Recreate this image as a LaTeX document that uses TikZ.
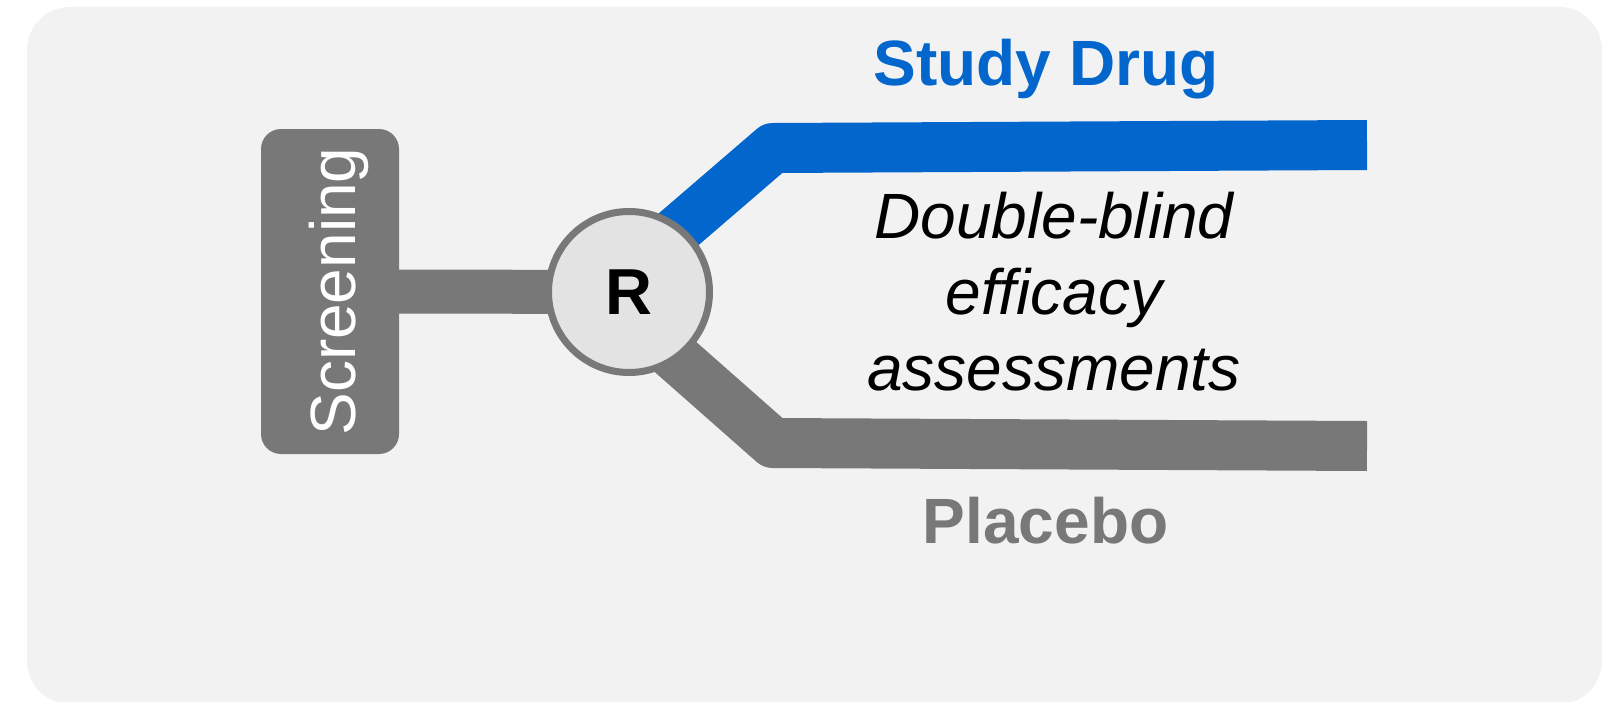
\documentclass[tikz,border=0pt]{standalone}
\usepackage{fontspec}
\setmainfont{Liberation Sans}
\usetikzlibrary{calc}
\definecolor{bgc}{HTML}{F2F2F2}
\definecolor{grayc}{HTML}{787878}
\definecolor{bluec}{HTML}{0366CC}
\definecolor{circfill}{HTML}{E3E3E3}
\pgfdeclarelayer{back}
\pgfdeclarelayer{mid}
\pgfsetlayers{back,mid,main}
\begin{document}
\begin{tikzpicture}[x=1pt,y=-1pt,
  arm/.style={line width=50pt, line join=round, line cap=butt},
  scrbox/.style={rectangle, fill=grayc, rounded corners=20pt, minimum width=138pt, minimum height=325pt, inner sep=0pt, outer sep=0pt},
  scrtext/.style={rotate=90, anchor=base, text=white, inner sep=0pt, font=\fontsize{64}{64}\selectfont},
  rnode/.style={circle, draw=grayc, line width=7pt, fill=circfill, minimum size=161pt, inner sep=0pt, font=\fontsize{65}{65}\selectfont\bfseries},
  armlabel/.style={anchor=base, inner sep=0pt, font=\fontsize{64}{64}\selectfont\bfseries},
  midtext/.style={align=center, inner sep=0pt, font=\fontsize{64}{76}\selectfont\itshape}]
\useasboundingbox (0,0) rectangle (1608,701);
\begin{pgfonlayer}{back}
\fill[bgc, rounded corners=43pt] (27,7) rectangle (1602,704);
\end{pgfonlayer}
\node[scrbox] (scr) at (330,291.5) {};
\node[scrtext] (scrtxt) at (355,291.5) {Screening};
\node[rnode] (R) at (629,292) {R};
\coordinate (b0) at ($(R.center)+(0,-20)$);
\coordinate (b1) at (773,148);
\coordinate (b2) at (1367,145);
\coordinate (g0) at ($(R.center)+(0,24)$);
\coordinate (g1) at (773,443);
\coordinate (g2) at (1367,446);
\begin{pgfonlayer}{mid}
\draw[grayc, line width=44pt] (scr.east) -- (R.center);
\draw[arm, bluec] (b0) -- (b1) -- (b2);
\draw[arm, grayc] (g0) -- (g1) -- (g2);
\end{pgfonlayer}
\node[armlabel, text=bluec] (sd) at (1046,85) {Study Drug};
\node[armlabel, text=grayc] (pl) at (1045.5,543) {Placebo};
\node[midtext] (db) at (1054,292) {Double-blind\\efficacy\\assessments};
\end{tikzpicture}
\end{document}
